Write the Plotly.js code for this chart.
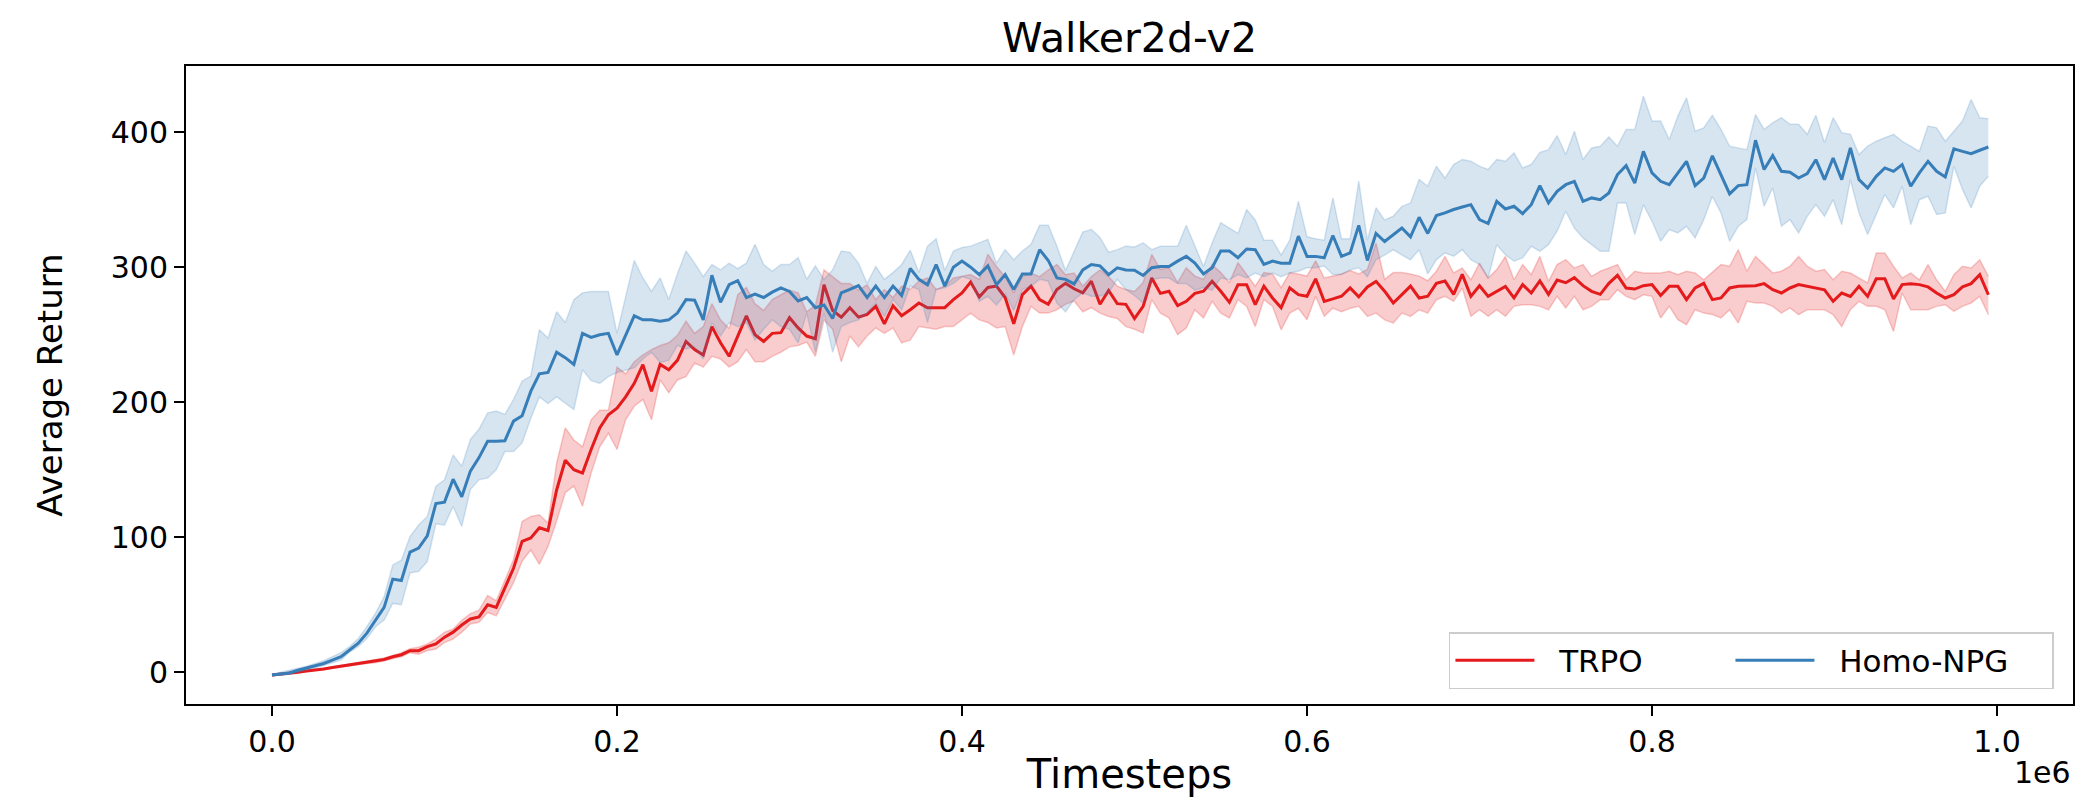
<!DOCTYPE html>
<html>
<head>
<meta charset="utf-8">
<script src="https://cdn.plot.ly/plotly-3.0.1.min.js"></script>
<style>
  html, body { margin: 0; padding: 0; background: #ffffff; overflow: hidden; }
  #chart { width: 2080px; height: 797px; }
</style>
</head>
<body>
<div id="chart"></div>
<script>
// ---- Data ----
const STEP = 5000; // timesteps between logged points
const xTickVals = [0, 200000, 400000, 600000, 800000, 1000000];
const xTickText = ['0.0', '0.2', '0.4', '0.6', '0.8', '1.0'];
const yTickVals = [0, 100, 200, 300, 400];
const seriesNames = ['TRPO', 'Homo-NPG'];

const trpoMean = [
  -2, -1.5, -0.5, 0, 1, 1.5, 2.5, 3.5, 4.5, 5.5,
  6.5, 7.5, 8, 9.5, 11.5, 13, 16, 16, 19, 21,
  26, 29.7, 35, 39.5, 41, 50, 48, 62, 77, 97,
  99.5, 107, 105, 135, 157, 150, 147.5, 165, 181, 190.7,
  195.6, 204, 214, 227.8, 208, 228, 224, 231, 245, 239,
  235, 256, 244, 234, 249, 264, 250, 245, 251, 251.5,
  262.6, 255, 249, 247, 287, 268, 263, 270, 263, 265,
  271, 258, 271.5, 264, 268.5, 273.5, 270, 270, 270, 276,
  281, 289, 278, 285, 286, 277.5, 258, 279.7, 286, 276,
  272.5, 283.5, 288, 284, 281, 289.6, 272.5, 282.7, 273, 272.5,
  262, 271, 292, 280.6, 282.2, 271.6, 274.7, 280.6, 282.2, 289.5,
  282.2, 274, 287, 287, 272.3, 286, 277.2, 270, 284.6, 279.7,
  278.5, 291.4, 274.7, 276.5, 278.5, 284.6, 278, 285.4, 289.5, 282.2,
  273.5, 279.7, 286, 277.2, 278.5, 288, 289.8, 279.9, 294.7, 278.4,
  286.3, 278.4, 282.1, 285.8, 277.2, 287.1, 280.9, 289.8, 279.9, 290.5,
  288.5, 292.3, 286.3, 282.1, 279.9, 288, 294, 284.6, 283.8, 286.3,
  287.1, 279, 285.8, 285.8, 276, 284.6, 288, 276, 277.2, 284.6,
  285.8, 286.3, 286.3, 287.8, 283.3, 280.9, 284.6, 287.1, 285.8, 284.6,
  283.3, 274.7, 280.9, 278.4, 285.8, 278.4, 291.4, 291.4, 276.5, 287.1,
  287.8, 287.1, 285.4, 280.9, 277.2, 279.6, 285.4, 287.8, 294.5, 279.6
];
const trpoUpper = [
  -1.5, -1, 0, 0.5, 1.5, 2, 3, 4, 5, 6,
  7, 8.5, 9, 10.5, 12.5, 14.5, 17.5, 18.5, 21, 24.6,
  29.7, 32, 38.4, 43.4, 46, 56.8, 53, 68.6, 83.5, 111.6,
  115.4, 116.6, 110.5, 155, 181, 172, 167, 187, 194, 194,
  226, 221, 230, 235, 239, 242, 244, 249.5, 260, 251,
  256, 273, 261, 254.6, 279.6, 285, 273, 268, 276, 279.6,
  283, 281, 267, 272, 298, 293, 288, 288, 283, 287,
  276, 283.5, 277.5, 286, 283.5, 289.6, 292, 283.5, 286, 292,
  293, 294.5, 291, 309.6, 300.5, 293, 281, 293, 295.7, 293,
  298, 302, 294.5, 295.7, 286, 293, 298, 293, 286, 283.5,
  282, 288.7, 309.5, 298.4, 299.6, 288.7, 299.6, 293.4, 291, 302,
  296, 288.7, 303.4, 295, 286, 296, 295, 284.8, 296, 295,
  293.4, 304.7, 292, 293.4, 295, 297.5, 295, 298.4, 318, 291,
  296, 296, 295, 293.4, 290, 297, 308, 295.7, 299.4, 290.7,
  303, 292, 298.2, 308, 290.7, 301.9, 294.5, 308, 289.5, 301.9,
  305.6, 299.4, 301.9, 293.2, 297, 299.4, 301.9, 290.7, 297, 295.7,
  295.7, 295.7, 297, 294.5, 297, 295.7, 290.7, 296, 301.9, 300.7,
  313, 297, 308, 301.9, 295.7, 297, 300.7, 308, 300.7, 297,
  298.2, 290.7, 297, 295.7, 292, 288.3, 310.6, 310.6, 300.7, 292,
  295.7, 290.7, 301.9, 290.7, 282.1, 294.5, 300.7, 299.4, 305.6, 293.2
];
const trpoLower = [
  -2.5, -2, -1, -0.5, 0.5, 1, 2, 3, 4, 5,
  6, 6.5, 7, 8.5, 10.5, 11.5, 14.5, 13.3, 16, 17.2,
  22, 24.6, 29.7, 35.8, 37, 44.3, 41.8, 54.3, 66.4, 82.3,
  90.6, 80, 93.2, 112, 133, 138, 123, 147.5, 167, 177,
  165, 187, 197, 202, 187, 216.5, 207, 216.5, 219, 229,
  226, 234, 232, 226, 230, 239, 230, 230, 234, 237,
  241, 242, 244.5, 234, 261, 254, 230, 249, 241, 249,
  255, 251, 255, 244, 246, 256, 255, 254, 256, 256,
  261, 266, 261, 259, 255, 256, 235, 256, 271, 266,
  266, 268.5, 272.5, 275, 267, 270, 266, 263.5, 262, 256,
  254, 251.2, 276, 266, 262.4, 250, 255, 268.4, 262.4, 274.7,
  266, 262.4, 276, 271, 256, 276, 271, 253.6, 266, 269.6,
  261, 278.4, 263.6, 269.6, 267, 269.6, 271, 263.6, 266, 261,
  258.6, 266, 263.6, 268.4, 266, 275.9, 278.4, 274.7, 284.6, 263.6,
  268.5, 263.6, 268.5, 263.6, 271, 272.2, 272.2, 271, 268.5, 278.4,
  269.8, 278.4, 268.5, 271, 275.9, 275.9, 283.3, 278.4, 275.9, 279.6,
  278.4, 262.4, 271, 261.1, 257.4, 268.5, 266, 265, 262.4, 268.5,
  258.6, 274.7, 273.5, 273.5, 271, 266, 269.8, 264.8, 268.5, 268.5,
  268.5, 264.8, 256.1, 268.5, 274.7, 271, 271, 268.5, 252.4, 280.9,
  268.5, 268.5, 268.5, 271, 272.2, 267.3, 271, 273.5, 278.4, 264.8
];

const homoMean = [
  -2, -1, -0.5, 1.5, 3, 4.5, 6.5, 9, 11.5, 16.5,
  21.5, 29, 39, 48, 69, 68, 89, 92, 101, 125,
  126, 143, 130, 149, 159, 171, 171, 171.5, 186, 190,
  208, 221, 222, 237, 233, 228, 251, 248, 250, 251,
  235, 249, 264, 261, 261, 260, 261, 266, 276, 275.5,
  261, 294, 274, 287, 290, 277.5, 280, 277.5, 281.5, 284.7,
  282, 275, 277.5, 270, 272, 262, 281, 283.5, 286.4, 277.5,
  286, 277.5, 286, 279, 299, 291, 287, 302, 286, 300,
  304.5, 300, 294.5, 301, 287, 294.5, 283.5, 295, 295, 313,
  305, 292, 291, 287.6, 298, 302, 301, 294.5, 299.5, 298,
  297.7, 293.9, 299.6, 300.5, 300.5, 304.5, 308, 303, 295, 299.6,
  312, 312, 307, 313.5, 313, 302, 304.5, 303, 303, 323,
  308, 308, 307, 323.5, 308, 310.6, 331, 305, 325, 319,
  324, 329, 322.5, 337, 325, 338.2, 340.2, 342.7, 344.6, 346.3,
  335.3, 332.3, 348.8, 343.1, 345.1, 339.7, 346.3, 360.4, 347.6, 356.2,
  361.1, 363.6, 348.8, 351.3, 350, 355, 368.6, 375.2, 362.3, 385.8,
  369.8, 363.6, 361.1, 369.3, 378.4, 360.4, 366, 382.5, 368.6, 354.3,
  360.4, 361.1, 394, 372.3, 382.7, 371, 370.3, 366, 369.3, 379.6,
  364.8, 380.9, 364.8, 388.3, 364.8, 358.6, 367.3, 373.5, 371, 376,
  359.9, 369.8, 378.4, 371, 366.8, 387.6, 385.8, 384.1, 386.6, 389
];
const homoUpper = [
  -1.5, 0, 1, 3, 4.5, 6.5, 8.5, 11.5, 14.5, 19,
  25, 33.7, 43.7, 56, 79.5, 83, 100.5, 109, 115.4, 137.8,
  142.5, 161, 152.6, 172.4, 180, 192, 193.5, 191, 202, 215.6,
  219.4, 253.7, 247.5, 267, 259, 276, 281, 282, 282, 282,
  251, 278, 305, 292, 282, 292, 276, 295, 312, 303,
  293, 302, 298, 303, 299, 303, 317, 302, 297, 302,
  302, 307, 291, 301, 291, 298, 312, 311, 303, 288,
  300.5, 291, 296, 302, 312.6, 296, 315.6, 321, 297.5, 312,
  314.6, 315.6, 318, 320.6, 303, 313, 305.5, 312, 317, 331,
  331, 315.6, 297.5, 312, 326, 328, 322, 311, 313, 315.6,
  315, 318, 313, 315.5, 315.5, 315.5, 331, 315.5, 300.5, 318,
  333, 329, 325, 342.7, 335, 320, 320, 309, 320, 348.9,
  322.5, 321, 320, 351.4, 321, 321, 363.7, 320, 344, 335,
  337.7, 345, 347.6, 365, 360, 374.8, 366, 376, 379.8, 378.5,
  374.8, 372.3, 379.8, 378.5, 384.6, 373.5, 376, 385, 387, 397.5,
  383.4, 400.7, 379.8, 388.3, 389.6, 396.5, 389.6, 402, 402, 426.7,
  408.2, 408.2, 394.6, 411.9, 425.5, 400.7, 403.2, 412.5, 402, 389.6,
  388.3, 387, 413, 402, 407, 410.7, 405.8, 405.8, 398.4, 412.5,
  392.1, 410.7, 399.6, 398.4, 383.4, 389.6, 393.3, 395.8, 398.4, 393.3,
  389.6, 385.8, 404.5, 403.2, 393.3, 400.7, 408.2, 424.2, 410.7, 410
];
const homoLower = [
  -2.5, -2, -1.5, 0, 1.5, 3, 5, 7, 9, 15,
  19, 25, 33.7, 38.7, 51, 50, 73.5, 74.7, 82, 110,
  109, 122.8, 108, 135.3, 142.5, 143.8, 150, 163.5, 163.5, 170,
  188, 204, 199, 204, 199.6, 194.6, 224, 216, 214, 219,
  222, 224, 225.5, 232, 237, 229.5, 231, 242, 239.5, 241,
  232, 259, 249, 259, 256, 259, 246, 254, 261, 256,
  254, 244, 266, 237, 266, 237, 256, 259, 261, 266,
  273.5, 263.5, 276, 268.5, 286, 283.5, 259, 283.5, 284.7, 288,
  293, 291, 274.7, 278.5, 272, 280, 268, 283.5, 286, 291,
  289.6, 273.5, 267, 276, 281, 278.5, 278.5, 281, 291, 283.5,
  279, 273.5, 290.7, 292, 292, 288, 288, 283, 285, 283,
  292, 290.7, 294.5, 292, 295.7, 293, 295.7, 293, 295.7, 297,
  299.6, 299.6, 300.8, 294.5, 294.5, 298, 299.6, 293, 305.5, 309,
  313, 309, 305.5, 313, 295, 305.6, 310.6, 308.1, 313, 305.6,
  301.9, 292, 316.7, 309.3, 304.4, 306.9, 315.5, 311.8, 316.7, 326.6,
  341.4, 329, 321.7, 316.7, 311.8, 311.8, 347.6, 347.6, 324.2, 346.3,
  334, 319.2, 327.8, 325.4, 330.3, 321.7, 335.2, 352.5, 340.2, 319.2,
  330.3, 335.2, 373.5, 345.1, 358.8, 330.3, 335.2, 325.4, 337.7, 346.3,
  337.7, 350, 331.5, 364.8, 340.2, 324.2, 339, 353.8, 343.9, 360,
  331.5, 350, 352.5, 339, 340.2, 374.8, 357.6, 343.9, 360, 367.3
];

const timesteps = trpoMean.map((_, i) => i * STEP);

// ---- Styling ----
const FONT = 'DejaVu Sans, Verdana, sans-serif';
const RED = '#e41a1c';
const BLUE = '#377eb8';
const RED_BAND = 'rgba(228,26,28,0.22)';
const BLUE_BAND = 'rgba(55,126,184,0.2)';
const PAD = '\u00a0\u00a0'; // gap between legend line sample and label

function band(upper, lower, color) {
  return [
    { x: timesteps, y: upper, type: 'scatter', mode: 'lines',
      line: { color: color, width: 1.5 }, showlegend: false, hoverinfo: 'skip' },
    { x: timesteps, y: lower, type: 'scatter', mode: 'lines', fill: 'tonexty',
      fillcolor: color, line: { color: color, width: 1.5 }, showlegend: false, hoverinfo: 'skip' }
  ];
}

const traces = [
  ...band(trpoUpper, trpoLower, RED_BAND),
  { x: timesteps, y: trpoMean, type: 'scatter', mode: 'lines', name: PAD + seriesNames[0],
    line: { color: RED, width: 3 } },
  ...band(homoUpper, homoLower, BLUE_BAND),
  { x: timesteps, y: homoMean, type: 'scatter', mode: 'lines', name: PAD + seriesNames[1],
    legendwidth: 228, line: { color: BLUE, width: 3 } }
];

const axisCommon = {
  showgrid: false, zeroline: false, showline: true, mirror: true,
  linecolor: '#000', linewidth: 2, ticks: 'outside', ticklen: 10, tickwidth: 2,
  tickcolor: '#000', tickfont: { family: FONT, size: 30, color: '#000' }
};

const layout = {
  width: 2080, height: 797,
  margin: { l: 186, r: 7, t: 66, b: 93 },
  paper_bgcolor: '#fff', plot_bgcolor: '#fff',
  font: { family: FONT, color: '#000' },
  title: { text: 'Walker2d-v2', font: { family: FONT, size: 41, color: '#000' },
           x: 0.5, xref: 'paper', xanchor: 'center', y: 0.953, yref: 'container', yanchor: 'middle' },
  xaxis: Object.assign({}, axisCommon, {
    range: [-49860, 1044060], tickmode: 'array', tickvals: xTickVals, ticktext: xTickText,
    title: { text: 'Timesteps', font: { family: FONT, size: 40, color: '#000' }, standoff: 3 }
  }),
  yaxis: Object.assign({}, axisCommon, {
    range: [-23.5, 449], tickmode: 'array', tickvals: yTickVals,
    title: { text: 'Average Return', font: { family: FONT, size: 34, color: '#000' }, standoff: 38 }
  }),
  legend: {
    orientation: 'h', x: 0.9899, xanchor: 'right', y: 0.0235, yanchor: 'bottom',
    bgcolor: 'rgba(255,255,255,0.8)', bordercolor: '#cccccc', borderwidth: 1.5,
    font: { family: FONT, size: 31, color: '#000' }, itemwidth: 79,
    entrywidth: 186, entrywidthmode: 'pixels', traceorder: 'normal'
  },
  annotations: [
    { text: '1e6', xref: 'paper', yref: 'paper', x: 1, y: -0.1066, xanchor: 'right', yanchor: 'middle',
      showarrow: false, font: { family: FONT, size: 30, color: '#000' } }
  ],
  showlegend: true
};

Plotly.newPlot('chart', traces, layout, { staticPlot: true, displayModeBar: false });
</script>
</body>
</html>
